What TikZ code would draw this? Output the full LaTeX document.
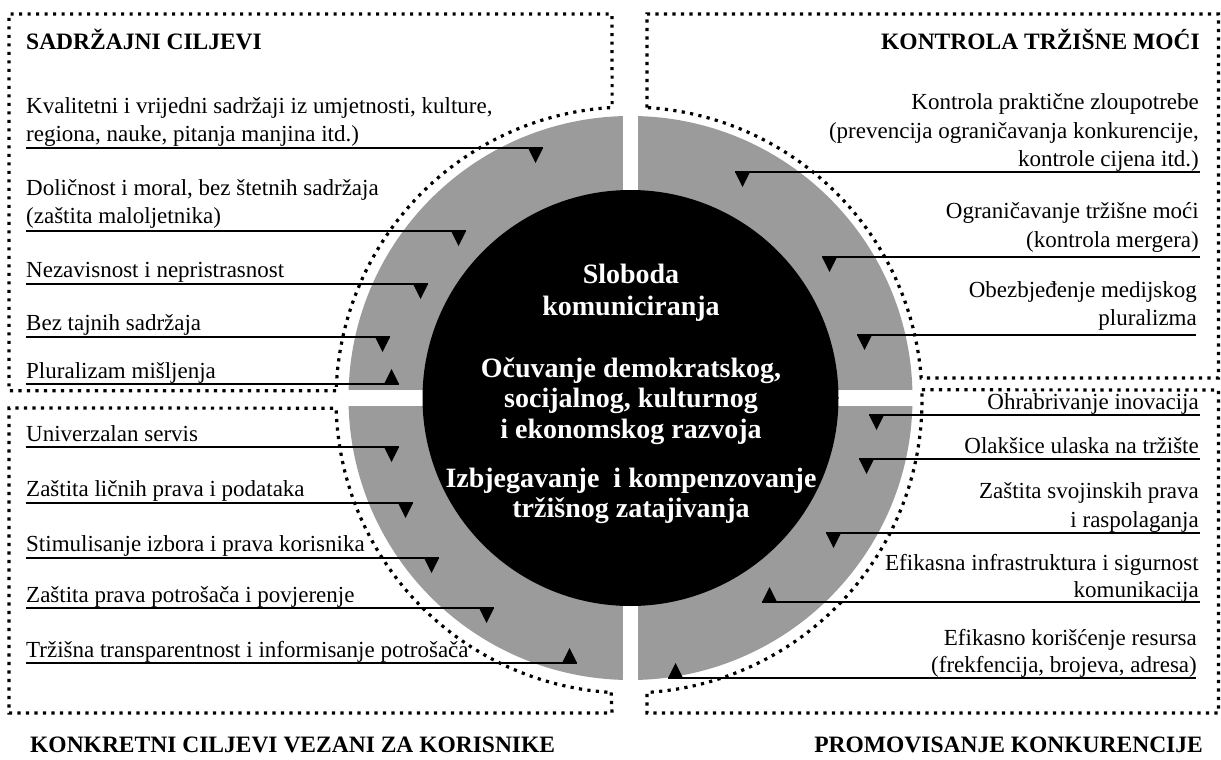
\documentclass[tikz,border=0pt]{standalone}
\usepackage{fontspec}
\setmainfont{Liberation Serif}
\usetikzlibrary{calc}
\definecolor{ringgray}{RGB}{155,155,155}
\tikzset{
  body/.style={inner sep=0pt, font=\fontsize{23}{28}\selectfont},
  lft/.style={body, anchor=base west},
  rgt/.style={body, anchor=base east},
  ttl/.style={inner sep=0pt, font=\fontsize{23.5}{28}\selectfont\bfseries},
  ctr/.style={inner sep=0pt, anchor=base, text=white, font=\fontsize{28}{31}\selectfont\bfseries},
  conn/.style={line width=1.8pt},
  dotline/.style={line width=3.2pt, dash pattern=on 3.2pt off 5.3pt},
  tridown/.pic={\fill (0,0) -- (15,0) -- (7.5,15) -- cycle;},
  triup/.pic={\fill (0,0) -- (15,0) -- (7.5,-15) -- cycle;}
}
\begin{document}
\begin{tikzpicture}[x=1pt,y=-1pt]
\useasboundingbox (0,0) rectangle (1221,760);
\fill[white] (0,0) rectangle (1221,760);
% ring
\coordinate (C) at (630.5,398);
\coordinate (D) at (629,400);
\fill[ringgray] (C) circle[radius=282];
\fill[white] (623,110) rectangle (638,690);
\fill[white] (340,390) rectangle (922,406);
\fill[black] (C) circle[radius=208];
% centre texts
\node[ctr] (c1) at (631,283) {Sloboda};
\node[ctr] (c2) at (631,315) {komuniciranja};
\node[ctr] (c3) at (631,377) {Očuvanje demokratskog,};
\node[ctr] (c4) at (631,407) {socijalnog, kulturnog};
\node[ctr] (c5) at (631,438) {i ekonomskog razvoja};
\node[ctr] (c6) at (631,487) {Izbjegavanje\ \ i kompenzovanje};
\node[ctr] (c7) at (631,517) {tržišnog zatajivanja};
% dotted regions
\draw[dotline] ($(D)+(181.8:293)$) -- (9,390.8) -- (9,14) -- (612,14) -- ($(D)+(266.7:293)$) arc[start angle=266.7, end angle=181.8, radius=293];
\draw[dotline] ($(D)+(273.5:293)$) -- (647,14) -- (1218.5,14) -- (1218.5,378) -- ($(D)+(355.7:293)$) arc[start angle=355.7, end angle=273.5, radius=293];
\draw[dotline] ($(D)+(358.0:293)$) -- (1218.5,390) -- (1218.5,713) -- (647,713) -- ($(D)+(86.5:293)$) arc[start angle=86.5, end angle=-2.0, radius=293];
\draw[dotline] ($(D)+(93.5:293)$) -- (612,713) -- (9,713) -- (9,408) -- ($(D)+(178.4:293)$) arc[start angle=178.4, end angle=93.5, radius=293];
% titles
\node[ttl, anchor=base west] (tTL) at (26,50) {SADRŽAJNI CILJEVI};
\node[ttl, anchor=base east] (tTR) at (1200,50) {KONTROLA TRŽIŠNE MOĆI};
\node[ttl, anchor=base west] (tBL) at (30,752) {KONKRETNI CILJEVI VEZANI ZA KORISNIKE};
\node[ttl, anchor=base east] (tBR) at (1203,752) {PROMOVISANJE KONKURENCIJE};
% ---- top left items
\node[lft] (a1) at (26,113) {Kvalitetni i vrijedni sadržaji iz umjetnosti, kulture,};
\node[lft] (a1b) at (26,141) {regiona, nauke, pitanja manjina itd.)};
\coordinate (a1s) at (26,148); \coordinate (a1e) at (543,148);
\node[lft] (a2) at (26,195) {Doličnost i moral, bez štetnih sadržaja};
\node[lft] (a2b) at (26,223) {(zaštita maloljetnika)};
\coordinate (a2s) at (26,231); \coordinate (a2e) at (466,231);
\node[lft] (a3) at (26,277) {Nezavisnost i nepristrasnost};
\coordinate (a3s) at (26,284); \coordinate (a3e) at (428,284);
\node[lft] (a4) at (26,330) {Bez tajnih sadržaja};
\coordinate (a4s) at (26,337); \coordinate (a4e) at (390,337);
\node[lft] (a5) at (26,378) {Pluralizam mišljenja};
\coordinate (a5s) at (26,384); \coordinate (a5e) at (399,384);
% ---- bottom left items
\node[lft] (b1) at (26,441) {Univerzalan servis};
\coordinate (b1s) at (26,447); \coordinate (b1e) at (399,447);
\node[lft] (b2) at (26,496) {Zaštita ličnih prava i podataka};
\coordinate (b2s) at (26,503); \coordinate (b2e) at (413,503);
\node[lft] (b3) at (26,551) {Stimulisanje izbora i prava korisnika};
\coordinate (b3s) at (26,558); \coordinate (b3e) at (439,558);
\node[lft] (b4) at (26,602) {Zaštita prava potrošača i povjerenje};
\coordinate (b4s) at (26,608); \coordinate (b4e) at (494,608);
\node[lft] (b5) at (26,657) {Tržišna transparentnost i informisanje potrošača};
\coordinate (b5s) at (26,663); \coordinate (b5e) at (577,663);
% ---- top right items
\node[rgt] (r1) at (1199,110) {Kontrola praktične zloupotrebe};
\node[rgt] (r1b) at (1199,138) {(prevencija ograničavanja konkurencije,};
\node[rgt] (r1c) at (1199,166) {kontrole cijena itd.)};
\coordinate (r1s) at (735,172); \coordinate (r1e) at (1200,172);
\node[rgt] (r2) at (1199,218) {Ograničavanje tržišne moći};
\node[rgt] (r2b) at (1199,247) {(kontrola mergera)};
\coordinate (r2s) at (822,257); \coordinate (r2e) at (1200,257);
\node[rgt] (r3) at (1197,297) {Obezbjeđenje medijskog};
\node[rgt] (r3b) at (1197,325) {pluralizma};
\coordinate (r3s) at (857,335); \coordinate (r3e) at (1196,335);
% ---- bottom right items
\node[rgt] (s1) at (1199,409) {Ohrabrivanje inovacija};
\coordinate (s1s) at (869,415); \coordinate (s1e) at (1200,415);
\node[rgt] (s2) at (1199,453) {Olakšice ulaska na tržište};
\coordinate (s2s) at (859,459); \coordinate (s2e) at (1200,459);
\node[rgt] (s3) at (1199,498) {Zaštita svojinskih prava};
\node[rgt] (s3b) at (1199,527) {i raspolaganja};
\coordinate (s3s) at (826,533); \coordinate (s3e) at (1200,533);
\node[rgt] (s4) at (1199,570) {Efikasna infrastruktura i sigurnost};
\node[rgt] (s4b) at (1199,597) {komunikacija};
\coordinate (s4s) at (762,602); \coordinate (s4e) at (1200,602);
\node[rgt] (s5) at (1197,645) {Efikasno korišćenje resursa};
\node[rgt] (s5b) at (1197,672) {(frekfencija, brojeva, adresa)};
\coordinate (s5s) at (668,678); \coordinate (s5e) at (1196,678);
% ---- connectors
\foreach \n in {a1,a2,a3,a4,b1,b2,b3,b4}{
  \draw[conn] (\n s) -- (\n e);
  \path (\n e) ++(-15,0) pic{tridown};
}
\foreach \n in {a5,b5}{
  \draw[conn] (\n s) -- (\n e);
  \path (\n e) ++(-15,0) pic{triup};
}
\foreach \n in {r1,r2,r3,s1,s2,s3}{
  \draw[conn] (\n s) -- (\n e);
  \path (\n s) pic{tridown};
}
\foreach \n in {s4,s5}{
  \draw[conn] (\n s) -- (\n e);
  \path (\n s) pic{triup};
}
\end{tikzpicture}
\end{document}
